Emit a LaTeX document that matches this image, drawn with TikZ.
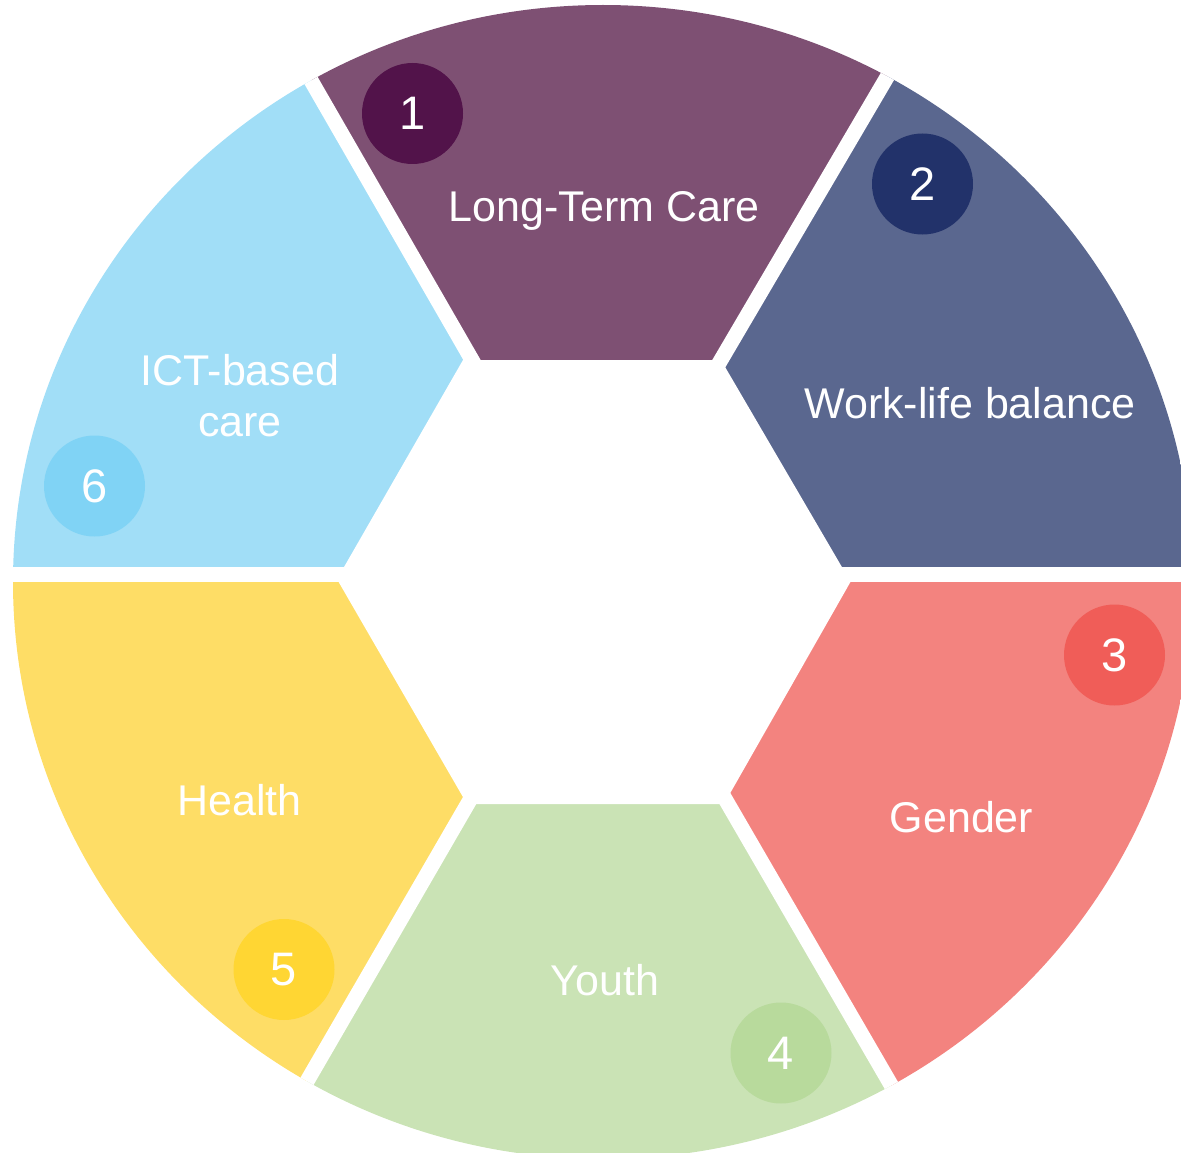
\documentclass[tikz,border=0pt]{standalone}
\usepackage{fontspec}
\setmainfont{Liberation Sans}
\definecolor{cLTC}{HTML}{7E5073}
\definecolor{bLTC}{HTML}{52134A}
\definecolor{cWL}{HTML}{5A678F}
\definecolor{bWL}{HTML}{22326A}
\definecolor{cGEN}{HTML}{F3837F}
\definecolor{bGEN}{HTML}{F05D58}
\definecolor{cYOU}{HTML}{CAE3B5}
\definecolor{bYOU}{HTML}{B8DA9C}
\definecolor{cHEA}{HTML}{FEDD66}
\definecolor{bHEA}{HTML}{FFD633}
\definecolor{cICT}{HTML}{A1DEF7}
\definecolor{bICT}{HTML}{80D3F5}
\begin{document}
\begin{tikzpicture}[x=1pt,y=-1pt,
  gapline/.style={white, line width=15pt},
  badge/.style={circle, minimum size=101pt, inner sep=0pt, text=white,
    font=\fontsize{47}{56}\selectfont},
  lbl/.style={text=white, font=\fontsize{43}{51}\selectfont, anchor=base, inner sep=0pt}]
\clip (0,0) rectangle (1181,1153);
\useasboundingbox (0,0) rectangle (1181,1153);
% gap centre lines
\coordinate (C) at (598,578);
\coordinate (g1i) at (519.7,442.8); \coordinate (g1o) at (172.5,-160);
\coordinate (g2i) at (667.5,451);   \coordinate (g2o) at (1021.8,-152.4);
\coordinate (g3i) at (800,574.2);   \coordinate (g3o) at (1400,574.2);
\coordinate (g4i) at (675,712.5);   \coordinate (g4o) at (1026,1317.5);
\coordinate (g5i) at (518,717);     \coordinate (g5o) at (169.3,1319);
\coordinate (g6i) at (400,574.2);   \coordinate (g6o) at (-200,574.2);
\begin{scope}
  \clip (603,582) ellipse [x radius=590pt, y radius=577pt];
  \fill[cLTC] (C)--(g1i)--(g1o)--(g2o)--(g2i)--cycle;
  \fill[cWL]  (C)--(g2i)--(g2o)--(1400,-160)--(g3o)--(g3i)--cycle;
  \fill[cGEN] (C)--(g3i)--(g3o)--(1400,1320)--(g4o)--(g4i)--cycle;
  \fill[cYOU] (C)--(g4i)--(g4o)--(g5o)--(g5i)--cycle;
  \fill[cHEA] (C)--(g5i)--(g5o)--(-200,1320)--(g6o)--(g6i)--cycle;
  \fill[cICT] (C)--(g6i)--(g6o)--(-200,-160)--(g1o)--(g1i)--cycle;
  \foreach \k in {1,...,6} {\draw[gapline] (g\k i)--(g\k o);}
  \fill[white] (463,360)--(721,360)--(846,574)--(855,574)--(724,804)--(467,804)--(334,574)--(340,574)--cycle;
\end{scope}
% badges
\node[badge, fill=bLTC] (n1) at (412.5,113.5) {1};
\node[badge, fill=bWL]  (n2) at (922.5,184) {2};
\node[badge, fill=bGEN] (n3) at (1114.5,655) {3};
\node[badge, fill=bYOU] (n4) at (781,1053) {4};
\node[badge, fill=bHEA] (n5) at (284,969.5) {5};
\node[badge, fill=bICT] (n6) at (94.5,486) {6};
% labels
\node[lbl] (t1) at (604,222) {Long-Term Care};
\node[lbl] (t2) at (970,418) {Work-life balance};
\node[lbl] (t3) at (961.5,832) {Gender};
\node[lbl] (t4) at (605,995) {Youth};
\node[lbl] (t5) at (239.5,815) {Health};
\node[lbl] (t6a) at (240,385) {ICT-based};
\node[lbl] (t6b) at (240,436) {care};
\end{tikzpicture}
\end{document}
